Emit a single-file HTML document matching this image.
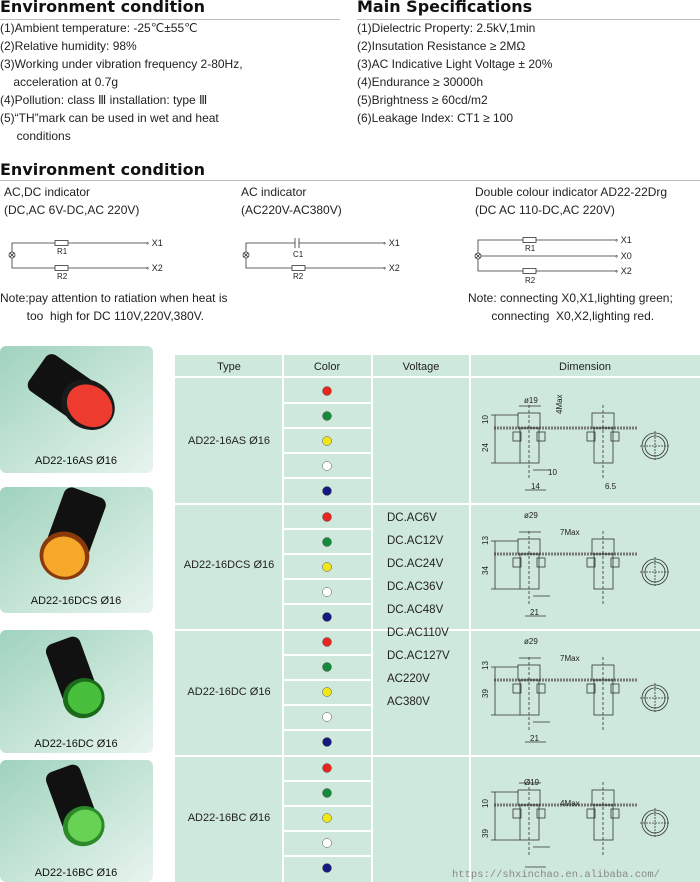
<!DOCTYPE html>
<html><head><meta charset="utf-8"><style>
body{margin:0;width:700px;height:882px;background:#fff;position:relative;overflow:hidden;font-family:"Liberation Sans",sans-serif;color:#222}
.a{position:absolute;white-space:nowrap}
.h{font-family:"DejaVu Sans",sans-serif;font-weight:bold;font-size:16px;color:#111}
.t{font-size:12px;line-height:18px}
</style></head><body>
<div class="a h" style="left:0;top:-3px">Environment condition</div>
<div class="a h" style="left:357px;top:-3px">Main Specifications</div>
<div class="a" style="left:0;top:19px;width:340px;border-top:1px solid #bbb"></div>
<div class="a" style="left:357px;top:19px;width:343px;border-top:1px solid #bbb"></div>
<div class="a t" style="left:0;top:19px">(1)Ambient temperature: -25℃±55℃<br>(2)Relative humidity: 98%<br>(3)Working under vibration frequency 2-80Hz,<br>&nbsp;&nbsp;&nbsp;&nbsp;acceleration at 0.7g<br>(4)Pollution: class Ⅲ installation: type Ⅲ<br>(5)“TH”mark can be used in wet and heat<br>&nbsp;&nbsp;&nbsp;&nbsp;&nbsp;conditions</div>
<div class="a t" style="left:357px;top:19px">(1)Dielectric Property: 2.5kV,1min<br>(2)Insutation Resistance ≥ 2MΩ<br>(3)AC Indicative Light Voltage ± 20%<br>(4)Endurance ≥ 30000h<br>(5)Brightness ≥ 60cd/m2<br>(6)Leakage Index: CT1 ≥ 100</div>
<div class="a h" style="left:0;top:160px">Environment condition</div>
<div class="a" style="left:0;top:180px;width:700px;border-top:1px solid #bbb"></div>
<div class="a t" style="left:4px;top:183px">AC,DC indicator<br>(DC,AC 6V-DC,AC 220V)</div>
<div class="a t" style="left:241px;top:183px">AC indicator<br>(AC220V-AC380V)</div>
<div class="a t" style="left:475px;top:183px">Double colour indicator AD22-22Drg<br>(DC AC 110-DC,AC 220V)</div>
<div class="a t" style="left:0;top:289px">Note:pay attention to ratiation when heat is<br>&nbsp;&nbsp;&nbsp;&nbsp;&nbsp;&nbsp;&nbsp;&nbsp;too&nbsp; high for DC 110V,220V,380V.</div>
<div class="a t" style="left:468px;top:289px">Note: connecting X0,X1,lighting green;<br>&nbsp;&nbsp;&nbsp;&nbsp;&nbsp;&nbsp;&nbsp;connecting&nbsp; X0,X2,lighting red.</div>
<svg class="a" style="left:0;top:0" width="700" height="882" font-family="Liberation Sans,sans-serif">
<defs>
<linearGradient id="cg" x1="0" y1="0" x2="1" y2="1"><stop offset="0" stop-color="#9fd3bd"/><stop offset="1" stop-color="#e8f4ee"/></linearGradient>
</defs>
<g stroke="#333" stroke-width="0.8" fill="none">
<!-- circuit 1 -->
<path d="M12,252V243H148M12,258V268H148"/>
<circle cx="12" cy="255" r="3"/><path d="M10,253l4,4M14,253l-4,4"/>
<rect x="55" y="240.5" width="13" height="5" fill="#fff"/><rect x="55" y="265.5" width="13" height="5" fill="#fff"/>
<!-- circuit 2 -->
<path d="M246,252V243H295M299,243H385M246,258V268H385"/>
<path d="M295,238V248M299,238V248"/>
<circle cx="246" cy="255" r="3"/><path d="M244,253l4,4M248,253l-4,4"/>
<rect x="292" y="265.5" width="13" height="5" fill="#fff"/>
<!-- circuit 3 -->
<path d="M478,253V240H617M478,259V271H617M481,256H617"/>
<circle cx="478" cy="256" r="3"/><path d="M476,254l4,4M480,254l-4,4"/>
<rect x="523" y="237.5" width="13" height="5" fill="#fff"/><rect x="523" y="268.5" width="13" height="5" fill="#fff"/>
</g>
<g font-size="8" fill="#222">
<text x="57" y="254">R1</text><text x="57" y="279">R2</text>
<text x="293" y="257">C1</text><text x="293" y="279">R2</text>
<text x="525" y="251">R1</text><text x="525" y="283">R2</text>
</g>
<g font-size="9" fill="#222">
<text x="146" y="246">◦ X1</text><text x="146" y="271">◦ X2</text>
<text x="383" y="246">◦ X1</text><text x="383" y="271">◦ X2</text>
<text x="615" y="243">◦ X1</text><text x="615" y="259">◦ X0</text><text x="615" y="274">◦ X2</text>
</g>
<!-- product cards -->
<g>
<rect x="0" y="346" width="153" height="127" rx="6" fill="url(#cg)"/>
<rect x="0" y="487" width="153" height="126" rx="6" fill="url(#cg)"/>
<rect x="0" y="630" width="153" height="123" rx="6" fill="url(#cg)"/>
<rect x="0" y="760" width="153" height="122" rx="6" fill="url(#cg)"/>
<g transform="translate(70,392) rotate(-55)"><rect x="-22" y="-40" width="44" height="60" rx="8" fill="#111"/><ellipse cx="0" cy="22" rx="24" ry="28" fill="#1a1a1a"/><ellipse cx="0" cy="24" rx="20" ry="24" fill="#ee3b2f"/></g>
<g transform="translate(72,535) rotate(20)"><rect x="-22" y="-45" width="44" height="62" rx="8" fill="#111"/><ellipse cx="0" cy="22" rx="25" ry="24" fill="#8a3a0a"/><ellipse cx="0" cy="23" rx="21" ry="20" fill="#f6a82a"/></g>
<g transform="translate(75,680) rotate(-20)"><rect x="-18" y="-42" width="36" height="62" rx="8" fill="#111"/><ellipse cx="2" cy="20" rx="21" ry="20" fill="#1c6b1c"/><ellipse cx="3" cy="20" rx="17" ry="16" fill="#49c03d"/></g>
<g transform="translate(75,808) rotate(-20)"><rect x="-18" y="-42" width="36" height="62" rx="8" fill="#111"/><ellipse cx="2" cy="20" rx="21" ry="20" fill="#2c8a2a"/><ellipse cx="3" cy="20" rx="17" ry="16" fill="#68d255"/></g>
<g font-size="11" fill="#111" text-anchor="middle">
<text x="76" y="464">AD22-16AS Ø16</text><text x="76" y="604">AD22-16DCS Ø16</text>
<text x="76" y="747">AD22-16DC Ø16</text><text x="76" y="876">AD22-16BC Ø16</text>
</g>
</g>
<!-- table -->
<rect x="175" y="355" width="525" height="527" fill="#cfe8dc"/>
<g stroke="#fff" stroke-width="2">
<path d="M283,355V882M372,355V882M470,355V882M175,377H700M175,504H700M175,630H700M175,756H700"/>
<path d="M283,403H372M283,428H372M283,453H372M283,478H372M283,529H372M283,554H372M283,579H372M283,604H372M283,655H372M283,680H372M283,705H372M283,730H372M283,781H372M283,806H372M283,831H372M283,856H372"/>
</g>
<g font-size="11" fill="#222" text-anchor="middle">
<text x="229" y="370">Type</text><text x="327" y="370">Color</text><text x="421" y="370">Voltage</text><text x="585" y="370">Dimension</text>
<text x="229" y="444">AD22-16AS Ø16</text><text x="229" y="568">AD22-16DCS Ø16</text>
<text x="229" y="695">AD22-16DC Ø16</text><text x="229" y="821">AD22-16BC Ø16</text>
</g>
<g font-size="11.5" fill="#222">
<text x="387" y="521">DC.AC6V</text><text x="387" y="544">DC.AC12V</text><text x="387" y="567">DC.AC24V</text><text x="387" y="590">DC.AC36V</text><text x="387" y="613">DC.AC48V</text><text x="387" y="636">DC.AC110V</text><text x="387" y="659">DC.AC127V</text><text x="387" y="682">AC220V</text><text x="387" y="705">AC380V</text>
</g>
<g stroke="#555" stroke-width="0.5">
<g><circle cx="327" cy="391" r="4.5" fill="#e8261e"/><circle cx="327" cy="416" r="4.5" fill="#158a3a"/><circle cx="327" cy="441" r="4.5" fill="#f0e61a"/><circle cx="327" cy="466" r="4.5" fill="#fff"/><circle cx="327" cy="491" r="4.5" fill="#141a80"/></g>
<g transform="translate(0,126)"><circle cx="327" cy="391" r="4.5" fill="#e8261e"/><circle cx="327" cy="416" r="4.5" fill="#158a3a"/><circle cx="327" cy="441" r="4.5" fill="#f0e61a"/><circle cx="327" cy="466" r="4.5" fill="#fff"/><circle cx="327" cy="491" r="4.5" fill="#141a80"/></g>
<g transform="translate(0,251)"><circle cx="327" cy="391" r="4.5" fill="#e8261e"/><circle cx="327" cy="416" r="4.5" fill="#158a3a"/><circle cx="327" cy="441" r="4.5" fill="#f0e61a"/><circle cx="327" cy="466" r="4.5" fill="#fff"/><circle cx="327" cy="491" r="4.5" fill="#141a80"/></g>
<g transform="translate(0,377)"><circle cx="327" cy="391" r="4.5" fill="#e8261e"/><circle cx="327" cy="416" r="4.5" fill="#158a3a"/><circle cx="327" cy="441" r="4.5" fill="#f0e61a"/><circle cx="327" cy="466" r="4.5" fill="#fff"/><circle cx="327" cy="491" r="4.5" fill="#141a80"/></g>
</g>
<defs>
<g id="dim" stroke="#333" stroke-width="0.8" fill="none">
<path d="M494,428H637" stroke-width="3" stroke="#777" stroke-dasharray="2 1"/>
<rect x="518" y="413" width="22" height="15"/><rect x="513" y="432" width="8" height="9"/><rect x="537" y="432" width="8" height="9"/><rect x="520" y="428" width="19" height="35"/>
<path d="M529,405V478" stroke-dasharray="3 2"/>
<rect x="592" y="413" width="22" height="15"/><rect x="587" y="432" width="8" height="9"/><rect x="611" y="432" width="8" height="9"/><rect x="594" y="428" width="19" height="35"/>
<path d="M603,405V478" stroke-dasharray="3 2"/>
<circle cx="655" cy="446" r="13"/><circle cx="655" cy="446" r="10"/><path d="M640,446H670M655,431V461" stroke-dasharray="2 1"/>
<path d="M495,415V463M491,415H518M491,463H520M519,406H541M533,470H550M525,490H546"/>
</g>
</defs>
<use href="#dim"/>
<use href="#dim" y="126"/>
<use href="#dim" y="252"/>
<use href="#dim" y="377"/>
<g font-size="8" fill="#222">
<text x="524" y="403">ø19</text><text x="548" y="475">10</text><text x="531" y="489">14</text><text x="605" y="489">6.5</text>
<text x="524" y="518">ø29</text><text x="560" y="535">7Max</text><text x="530" y="615">21</text>
<text x="524" y="644">ø29</text><text x="560" y="661">7Max</text><text x="530" y="741">21</text>
<text x="524" y="785">Ø19</text><text x="560" y="806">4Max</text>
<text transform="translate(488,424) rotate(-90)">10</text><text transform="translate(488,452) rotate(-90)">24</text>
<text transform="translate(488,545) rotate(-90)">13</text><text transform="translate(488,575) rotate(-90)">34</text>
<text transform="translate(488,670) rotate(-90)">13</text><text transform="translate(488,698) rotate(-90)">39</text>
<text transform="translate(488,808) rotate(-90)">10</text><text transform="translate(488,838) rotate(-90)">39</text>
<text transform="translate(562,414) rotate(-90)">4Max</text>
</g>
<text x="452" y="877" font-family="Liberation Mono,monospace" font-size="10.5" fill="#888">https://shxinchao.en.alibaba.com/</text>
</svg>
</body></html>
